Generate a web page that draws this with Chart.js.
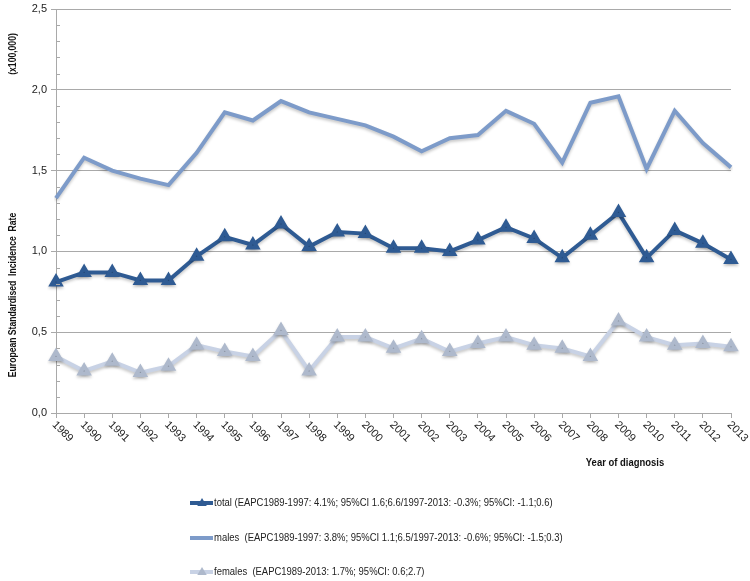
<!DOCTYPE html>
<html>
<head>
<meta charset="utf-8">
<script src="https://cdn.jsdelivr.net/npm/chart.js@4.4.0/dist/chart.umd.min.js"></script>
<style>
  html, body { margin: 0; padding: 0; background: #fff; }
</style>
</head>
<body>
<canvas id="myChart" width="750" height="581"></canvas>
<script>
const years = ["1989","1990","1991","1992","1993","1994","1995","1996","1997","1998","1999","2000",
  "2001","2002","2003","2004","2005","2006","2007","2008","2009","2010","2011","2012","2013"];

const totalRates = [0.81,0.87,0.87,0.82,0.82,0.97,1.09,1.04,1.17,1.03,1.12,1.11,
  1.02,1.02,1.00,1.07,1.15,1.08,0.96,1.10,1.24,0.96,1.13,1.05,0.95];
const maleRates = [1.33,1.58,1.50,1.45,1.41,1.61,1.86,1.81,1.93,1.86,1.82,1.78,
  1.71,1.62,1.70,1.72,1.87,1.79,1.55,1.92,1.96,1.51,1.87,1.67,1.52];
const femaleRates = [0.35,0.26,0.32,0.25,0.29,0.42,0.38,0.35,0.51,0.26,0.47,0.47,
  0.40,0.46,0.38,0.43,0.47,0.42,0.40,0.35,0.57,0.47,0.42,0.43,0.41];

const legendLabels = [
  "total (EAPC1989-1997: 4.1%; 95%CI 1.6;6.6/1997-2013: -0.3%; 95%CI: -1.1;0.6)",
  "males  (EAPC1989-1997: 3.8%; 95%CI 1.1;6.5/1997-2013: -0.6%; 95%CI: -1.5;0.3)",
  "females  (EAPC1989-2013: 1.7%; 95%CI: 0.6;2.7)"
];

const yTitle = "European Standardised  Incidence  Rate";
const yUnit = "(x100,000)";
const xTitle = "Year of diagnosis";

const gridGrey = "#a9a9a9";
const textFont = "'Liberation Sans', sans-serif";
const squeeze = 0.86; // the original font is narrower than Liberation Sans

// shadow under the lines, like the original
const lineShadow = {
  id: "lineShadow",
  beforeDatasetsDraw(chart) {
    const ctx = chart.ctx;
    ctx.save();
    ctx.shadowColor = "rgba(0,0,0,0.22)";
    ctx.shadowBlur = 3;
    ctx.shadowOffsetY = 2;
  },
  afterDatasetsDraw(chart) {
    chart.ctx.restore();
  }
};

function triangle(ctx, x, y, r, color) {
  ctx.beginPath();
  ctx.moveTo(x, y - r);
  ctx.lineTo(x + r * 0.95, y + r * 0.6);
  ctx.lineTo(x - r * 0.95, y + r * 0.6);
  ctx.closePath();
  ctx.fillStyle = color;
  ctx.fill();
}

function narrowText(ctx, text, x, y) {
  ctx.save();
  ctx.translate(x, y);
  ctx.scale(squeeze, 1);
  ctx.fillText(text, 0, 0);
  ctx.restore();
}

// rotated year labels, minor ticks, axis titles and legend
const extras = {
  id: "extras",
  afterDraw(chart) {
    const ctx = chart.ctx;
    const xs = chart.scales.x;
    const ys = chart.scales.y;
    const area = chart.chartArea;

    ctx.save();
    // minor ticks
    ctx.strokeStyle = gridGrey;
    ctx.lineWidth = 1;
    for (let k = 1; k < 25; k++) {
      if (k % 5 === 0) continue;
      const py = Math.round(ys.getPixelForValue(k / 10)) + 0.5;
      ctx.beginPath();
      ctx.moveTo(area.left, py);
      ctx.lineTo(area.left + 4, py);
      ctx.stroke();
    }

    // year labels
    ctx.fillStyle = "#222";
    ctx.font = "11px " + textFont;
    ctx.textAlign = "left";
    ctx.textBaseline = "middle";
    years.forEach((y, i) => {
      const px = xs.getPixelForTick(i);
      ctx.save();
      ctx.translate(px - 2, area.bottom + 10);
      ctx.rotate(Math.PI / 4);
      ctx.fillText(y, 0, 0);
      ctx.restore();
    });

    // axis titles
    ctx.font = "bold 10px " + textFont;
    ctx.fillStyle = "#111";
    ctx.textAlign = "center";
    ctx.save();
    ctx.translate(13, 295);
    ctx.rotate(-Math.PI / 2);
    narrowText(ctx, yTitle, 0, 0);
    ctx.restore();
    ctx.save();
    ctx.translate(13, 54);
    ctx.rotate(-Math.PI / 2);
    narrowText(ctx, yUnit, 0, 0);
    ctx.restore();

    ctx.font = "bold 11px " + textFont;
    narrowText(ctx, xTitle, 625, 463);

    // legend
    const rows = [503, 538, 572];
    ctx.font = "11px " + textFont;
    ctx.textAlign = "left";
    chart.data.datasets.forEach((ds, i) => {
      const y = rows[i];
      ctx.strokeStyle = ds.borderColor;
      ctx.lineWidth = 4;
      ctx.beginPath();
      ctx.moveTo(190, y);
      ctx.lineTo(213, y);
      ctx.stroke();
      if (ds.pointRadius > 0) triangle(ctx, 202, y, 5, ds.pointBackgroundColor);
      ctx.fillStyle = "#222";
      narrowText(ctx, legendLabels[i], 214, y);
    });
    ctx.restore();
  }
};

const ctx = document.getElementById("myChart").getContext("2d");

new Chart(ctx, {
  type: "line",
  data: {
    labels: years,
    datasets: [
      {
        label: "total",
        data: totalRates,
        borderColor: "#2f5b93",
        pointBackgroundColor: "#2f5b93",
        pointBorderColor: "#2f5b93",
        borderWidth: 4,
        pointStyle: "triangle",
        pointRadius: 5,
        tension: 0
      },
      {
        label: "males",
        data: maleRates,
        borderColor: "#7d9bc9",
        pointBackgroundColor: "#7d9bc9",
        borderWidth: 4,
        pointRadius: 0,
        tension: 0
      },
      {
        label: "females",
        data: femaleRates,
        borderColor: "#c8d2e5",
        pointBackgroundColor: "#aeb9cc",
        pointBorderColor: "#aeb9cc",
        borderWidth: 4,
        pointStyle: "triangle",
        pointRadius: 5,
        tension: 0
      }
    ]
  },
  options: {
    responsive: false,
    animation: false,
    layout: { padding: { top: 2, right: 19, left: 0, bottom: 0 } },
    plugins: {
      legend: { display: false },
      tooltip: { enabled: false }
    },
    scales: {
      x: {
        offset: false,
        ticks: { display: false },
        grid: { drawOnChartArea: false, tickLength: 5, tickColor: gridGrey },
        border: { color: gridGrey },
        afterFit: s => { s.height = 168; }
      },
      y: {
        min: 0,
        max: 2.5,
        ticks: {
          stepSize: 0.5,
          color: "#222",
          font: { size: 11, family: textFont },
          padding: 4,
          callback: v => v.toFixed(1).replace(".", ",")
        },
        grid: { color: gridGrey, tickLength: 5, tickColor: gridGrey },
        border: { color: gridGrey },
        afterFit: s => { s.width = 56; s.paddingTop = 0; s.paddingBottom = 0; }
      }
    }
  },
  plugins: [lineShadow, extras]
});
</script>
</body>
</html>
